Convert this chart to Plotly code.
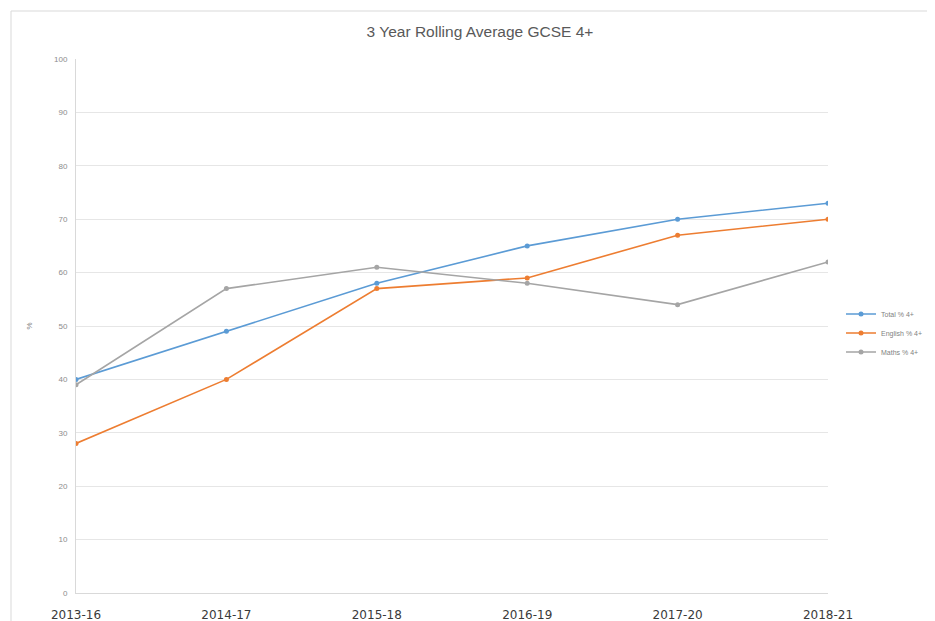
import plotly.graph_objects as go

categories = ["2013-16", "2014-17", "2015-18", "2016-19", "2017-20", "2018-21"]
total = [40, 49, 58, 65, 70, 73]
english = [28, 40, 57, 59, 67, 70]
maths = [39, 57, 61, 58, 54, 62]
series_names = ["Total % 4+", "English % 4+", "Maths % 4+"]
colors = ["#5b9bd5", "#ed7d31", "#a5a5a5"]

fig = go.Figure()
for name, vals, col in zip(series_names, [total, english, maths], colors):
    fig.add_trace(go.Scatter(
        x=list(range(len(categories))), y=vals, name=name, mode="lines+markers",
        line=dict(color=col, width=1.6),
        marker=dict(color=col, size=5, symbol="circle"),
    ))

# page body has an 8px margin; figure sized to fit the window
OFF = 8
W, H = 935 - OFF, 621 - OFF
L, T = 76 - OFF, 59 - OFF
R = W - (828 - OFF)
B = H - (593 - OFF)
pw, ph = W - L - R, H - T - B
bx0 = (11 - 76) / pw
by1 = (593 - 11) / ph

fig.update_layout(
    width=W, height=H,
    margin=dict(l=L, r=R, t=T, b=B, autoexpand=False),
    paper_bgcolor="white", plot_bgcolor="white",
    title=dict(text="3 Year Rolling Average GCSE 4+", x=(480 - OFF) / W,
               xanchor="center", y=1 - (32 - OFF) / H, yanchor="middle",
               font=dict(family="Liberation Sans, Arial", size=15.5, color="#595959")),
    font=dict(family="Liberation Sans, Arial", color="#595959"),
    showlegend=True,
    legend=dict(x=(841 - 76) / pw, xanchor="left", y=(593 - 333) / ph, yanchor="middle",
                font=dict(size=7, color="#7f7f7f"), bgcolor="rgba(0,0,0,0)",
                itemwidth=30, tracegroupgap=2),
    xaxis=dict(
        range=[0, 5], tickmode="array", tickvals=list(range(len(categories))),
        ticktext=categories, showgrid=False, zeroline=False,
        showline=True, linecolor="#d9d9d9", linewidth=1,
        tickfont=dict(family="DejaVu Sans, Liberation Sans", size=12, color="#3a3a3a"),
        ticks="", ticklabelstandoff=11,
    ),
    yaxis=dict(
        range=[0, 100], dtick=10, showgrid=True, gridcolor="#e6e6e6", gridwidth=1,
        zeroline=False, showline=True, linecolor="#d9d9d9", linewidth=1,
        tickfont=dict(size=8, color="#8c8c8c"), ticks="", ticklabelstandoff=6,
        title=dict(text="%", font=dict(size=8, color="#7f7f7f"), standoff=20),
    ),
    shapes=[
        dict(type="line", xref="paper", yref="paper", x0=bx0, x1=1.2, y0=by1, y1=by1,
             line=dict(color="#d9d9d9", width=1)),
        dict(type="line", xref="paper", yref="paper", x0=bx0, x1=bx0, y0=by1, y1=-0.1,
             line=dict(color="#d9d9d9", width=1)),
    ],
)

fig.write_html("out.html")
